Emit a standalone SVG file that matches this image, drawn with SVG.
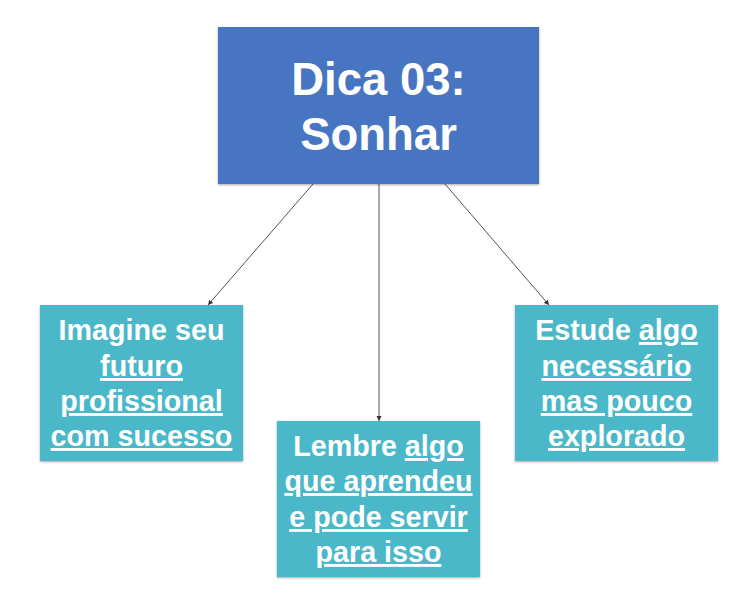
<svg xmlns="http://www.w3.org/2000/svg" width="750" height="604" viewBox="0 0 750 604">
<style>
.t{font-family:"Liberation Sans",Arial,sans-serif;font-weight:bold;fill:#fff;text-anchor:middle}
.big{font-size:45.5px}
.sm{font-size:28.7px}
.u{text-decoration:underline}
.c{stroke:#555;stroke-width:1;fill:none}
</style>
<defs>
<filter id="sh" x="-10%" y="-10%" width="120%" height="120%">
<feDropShadow dx="0" dy="1" stdDeviation="1.2" flood-color="#000" flood-opacity="0.35"/>
</filter>
<marker id="ar" markerWidth="6" markerHeight="6" refX="5" refY="3" orient="auto" markerUnits="userSpaceOnUse">
<path d="M0,0.5 L5,3 L0,5.5 z" fill="#333"/>
</marker>
</defs>
<rect width="750" height="604" fill="#fff"/>
<g id="connectors">
<line class="c" x1="313" y1="184" x2="208" y2="305" marker-end="url(#ar)"/>
<line class="c" x1="379" y1="184" x2="379" y2="421" marker-end="url(#ar)"/>
<line class="c" x1="445" y1="184" x2="549" y2="305" marker-end="url(#ar)"/>
</g>
<g id="top">
<rect x="218" y="27" width="321" height="157" fill="#4674C2" filter="url(#sh)"/>
<text class="t big" x="378.5" y="95">Dica 03:</text>
<text class="t big" x="378.5" y="150">Sonhar</text>
</g>
<g id="left">
<rect x="40" y="305" width="203" height="156" fill="#4BB8C9" filter="url(#sh)"/>
<text class="t sm" x="141.5" y="340">Imagine seu</text>
<text class="t sm u" x="141.5" y="376">futuro</text>
<text class="t sm u" x="141.5" y="411">profissional</text>
<text class="t sm u" x="141.5" y="446">com sucesso</text>
</g>
<g id="middle">
<rect x="277" y="421" width="203" height="156" fill="#4BB8C9" filter="url(#sh)"/>
<text class="t sm" x="378.5" y="456">Lembre <tspan class="u">algo</tspan></text>
<text class="t sm u" x="378.5" y="491">que aprendeu</text>
<text class="t sm u" x="378.5" y="527">e pode servir</text>
<text class="t sm u" x="378.5" y="562">para isso</text>
</g>
<g id="right">
<rect x="515" y="305" width="203" height="156" fill="#4BB8C9" filter="url(#sh)"/>
<text class="t sm" x="616.5" y="340">Estude <tspan class="u">algo</tspan></text>
<text class="t sm u" x="616.5" y="376">necessário</text>
<text class="t sm u" x="616.5" y="411">mas pouco</text>
<text class="t sm u" x="616.5" y="446">explorado</text>
</g>
</svg>
